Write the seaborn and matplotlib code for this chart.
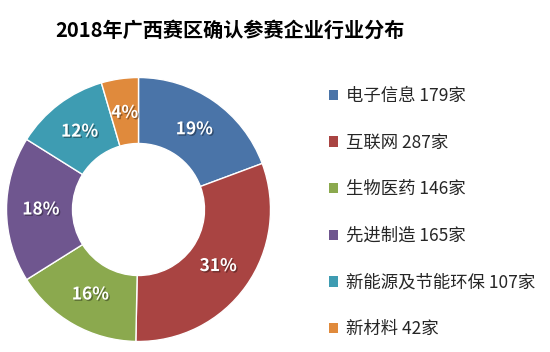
import matplotlib
matplotlib.use("Agg")
import matplotlib.pyplot as plt
import matplotlib.patheffects as pe
import numpy as np
import seaborn as sns

categories = ["电子信息", "互联网", "生物医药", "先进制造", "新能源及节能环保", "新材料"]
counts = [179, 287, 146, 165, 107, 42]
pct_labels = ["19%", "31%", "16%", "18%", "12%", "4%"]
colors = ["#4A74A8", "#A94442", "#8BA94E", "#6F568F", "#3E9CB2", "#E08A3C"]
title = "2018年广西赛区确认参赛企业行业分布"

sns.set_theme(style="white")
plt.rcParams["font.family"] = ["Noto Sans CJK SC", "DejaVu Sans"]

fig = plt.figure(figsize=(5.5, 3.52), dpi=100)
fig.patch.set_facecolor("white")

cx, cy, r = 138.5, 209.5, 132
ax = fig.add_axes([(cx - r) / 550, (352 - cy - r) / 352, 2 * r / 550, 2 * r / 352])

wedges, _ = ax.pie(counts, colors=colors, startangle=90, counterclock=False,
                   radius=1.0,
                   wedgeprops=dict(width=0.5, edgecolor="white", linewidth=1.0))
ax.set_xlim(-1, 1)
ax.set_ylim(-1, 1)
ax.set_aspect("equal")
ax.axis("off")

for w, lab in zip(wedges, pct_labels):
    ang = np.deg2rad((w.theta1 + w.theta2) / 2)
    x, y = 0.74 * np.cos(ang), 0.74 * np.sin(ang)
    ax.text(x, y, lab, ha="center", va="center", color="white", fontsize=12.5,
            fontweight="bold",
            path_effects=[pe.withSimplePatchShadow(offset=(1, -1), shadow_rgbFace="black", alpha=0.35)])

fig.text(230 / 550, 1 - 30 / 352, title, ha="center", va="center",
         fontsize=14.5, fontweight="bold", color="black")

labels = [f"{c} {n}家" for c, n in zip(categories, counts)]
leg = fig.legend(wedges, labels, loc="upper left",
                 bbox_to_anchor=(322 / 550, 1 - 80 / 352),
                 frameon=False, fontsize=12.5, handlelength=0.55, handleheight=0.55,
                 handletextpad=0.45, labelspacing=1.65, borderaxespad=0)
for h in leg.legend_handles:
    h.set_edgecolor("none")

fig.savefig("out.png", dpi=100, facecolor="white")
